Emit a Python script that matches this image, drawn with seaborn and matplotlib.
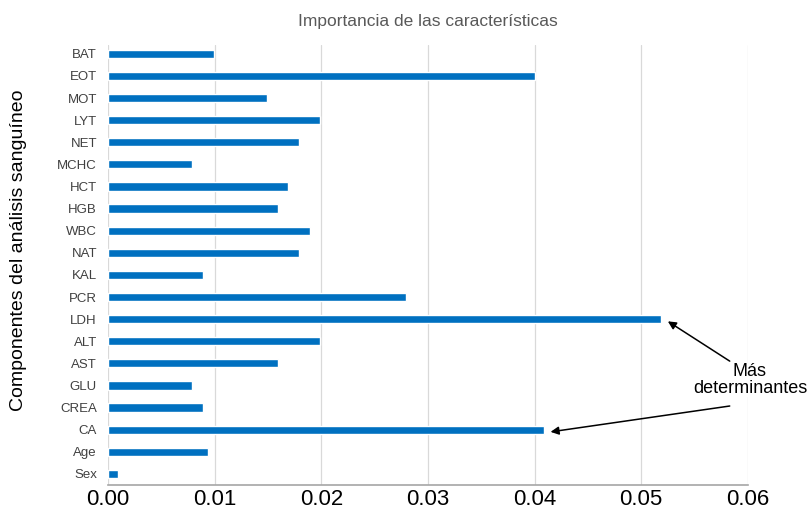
import matplotlib
matplotlib.use("Agg")
import matplotlib.pyplot as plt
import pandas as pd
import seaborn as sns

# feature names, top to bottom as in the chart
features = ["BAT", "EOT", "MOT", "LYT", "NET", "MCHC", "HCT", "HGB", "WBC", "NAT",
            "KAL", "PCR", "LDH", "ALT", "AST", "GLU", "CREA", "CA", "Age", "Sex"]
importance = [0.0099, 0.0400, 0.0149, 0.0199, 0.0179, 0.0079, 0.0169, 0.0159, 0.0189, 0.0179,
              0.0089, 0.0279, 0.0519, 0.0199, 0.0159, 0.0079, 0.0089, 0.0409, 0.0094, 0.0009]
xticks = [0.00, 0.01, 0.02, 0.03, 0.04, 0.05, 0.06]
highlight = ["LDH", "CA"]

df = pd.DataFrame({"feature": features, "importance": importance})

sns.set_theme(style="white")
plt.rcParams["font.family"] = ["Liberation Sans", "DejaVu Sans"]

fig, ax = plt.subplots(figsize=(8.12, 5.11), dpi=100)
fig.subplots_adjust(left=0.133, right=0.921, top=0.912, bottom=0.051)

sns.barplot(data=df, y="feature", x="importance", orient="h",
            color="#0070C0", saturation=1, width=0.37, ax=ax)

ax.set_xlim(0, 0.06)
ax.set_ylim(len(features) - 0.5, -0.4)
ax.set_xticks(xticks)
ax.set_xticklabels(["%.2f" % t for t in xticks], fontsize=16, color="black")
ax.tick_params(axis="x", length=0, pad=3)
ax.tick_params(axis="y", length=0, labelsize=9.5, labelcolor="#404040", pad=8)
ax.xaxis.grid(True, color="#d9d9d9", linewidth=0.9)
ax.set_axisbelow(True)
for s in ["top", "right", "left"]:
    ax.spines[s].set_visible(False)
ax.spines["bottom"].set_color("#a6a6a6")
ax.spines["bottom"].set_linewidth(1.2)

ax.set_xlabel("")
ax.set_ylabel("Componentes del análisis sanguíneo", fontsize=14, color="black")
ax.yaxis.set_label_coords(-0.127, 0.534)
ax.set_title("Importancia de las características", fontsize=12.5, color="#595959", pad=14)

# annotation for the most important features
txt_x, txt_y = 0.0602, 14.75
ax.text(txt_x, txt_y, "Más\ndeterminantes", ha="center", va="center",
        fontsize=13, color="black", linespacing=1.05, clip_on=False,
        bbox=dict(boxstyle="square,pad=0.0", fc="white", ec="none"))
arrow_from = {"LDH": (0.0583, 13.9), "CA": (0.0583, 15.93)}
for name in highlight:
    i = features.index(name)
    val = importance[i]
    ax.annotate("", xy=(val + 0.0006, i + 0.1), xytext=arrow_from[name],
                arrowprops=dict(arrowstyle="-|>", color="black", lw=1.1,
                                mutation_scale=12, shrinkA=0, shrinkB=0),
                annotation_clip=False)

plt.savefig("out.png", dpi=100)
